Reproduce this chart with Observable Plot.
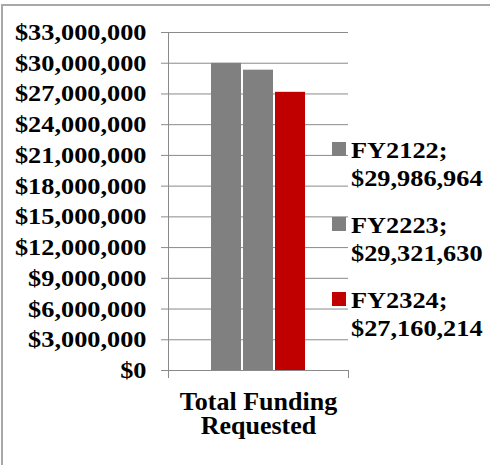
<!DOCTYPE html>
<html>
<head>
<meta charset="utf-8">
<script src="https://cdn.jsdelivr.net/npm/d3@7"></script>
<script src="https://cdn.jsdelivr.net/npm/@observablehq/plot@0.6"></script>
<style>
  html, body { margin: 0; padding: 0; background: #fff; }
  #wrap { position: relative; width: 490px; height: 465px; overflow: hidden; font-family: "Liberation Serif", Tinos, "Times New Roman", "Nimbus Roman", FreeSerif, "DejaVu Serif", serif; }
  #border { position: absolute; left: 1px; top: 4px; width: 600px; height: 600px; border-top: 2px solid #a8a8a8; border-left: 2px solid #a8a8a8; box-sizing: border-box; }
  #chart { position: absolute; left: 0; top: 0; }
  .lg-sw { position: absolute; width: 14px; height: 14px; }
  .lg-tx { position: absolute; font-weight: bold; font-size: 23.5px; line-height: 28px; white-space: nowrap; transform: scaleX(1.12); transform-origin: left top; color: #000; }
</style>
</head>
<body>
<div id="wrap"><div id="border"></div><div id="chart"></div></div>
<script>
const category = "Total Funding Requested";
const series = ["FY2122", "FY2223", "FY2324"];
const values = [29986964, 29321630, 27160214];
const colors = ["#808080", "#808080", "#C00000"];
const yTicks = [0, 3000000, 6000000, 9000000, 12000000, 15000000, 18000000, 21000000, 24000000, 27000000, 30000000, 33000000];

const data = series.map((s, i) => ({category, series: s, value: values[i]}));
const fmt = d3.format("$,");
const gridColor = "#8a8a8a";
const serif = "'Liberation Serif', Tinos, 'Times New Roman', 'Nimbus Roman', FreeSerif, 'DejaVu Serif', serif";

const plot = Plot.plot({
  width: 490,
  height: 465,
  marginLeft: 168,
  marginRight: 142,
  marginTop: 32,
  marginBottom: 95,
  style: {fontFamily: serif, background: "transparent", overflow: "visible"},
  x: {domain: series, paddingInner: 0.06, paddingOuter: 1.26, axis: null},
  y: {domain: [0, 33000000], axis: null},
  color: {domain: series, range: colors},
  marks: [
    Plot.gridY(yTicks, {stroke: gridColor, strokeOpacity: 1}),
    Plot.axisY(yTicks, {tickSize: 7, tickPadding: 15, tickFormat: fmt, stroke: gridColor, fill: "#000", fontSize: 23.5, fontWeight: "bold", fontFamily: serif, label: null}),
    Plot.frame({anchor: "left", stroke: gridColor, insetBottom: -7}),
    Plot.frame({anchor: "bottom", stroke: gridColor}),
    Plot.frame({anchor: "right", stroke: gridColor, insetTop: 338, insetBottom: -7}),
    Plot.barY(data, {x: "series", y: "value", fill: "series"}),
    Plot.text([category], {text: d => d, frameAnchor: "bottom", lineAnchor: "top", dy: 23, fontSize: 26, fontWeight: "bold", fontFamily: serif, lineWidth: 8.5, lineHeight: 0.9, fill: "#000"})
  ]
});
document.getElementById("chart").appendChild(plot);

// stretch y tick labels horizontally to match reference glyph widths
d3.select(plot).selectAll("g[aria-label='y-axis tick label'] text").each(function() {
  const w = this.getComputedTextLength();
  this.setAttribute("textLength", (w * 1.12).toFixed(1));
  this.setAttribute("lengthAdjust", "spacingAndGlyphs");
});

// legend
const wrap = d3.select("#wrap");
series.forEach((s, i) => {
  const top = 142 + i * 74.8;
  wrap.append("div").attr("class", "lg-sw")
    .style("left", "332px").style("top", top + "px").style("background", colors[i]);
  wrap.append("div").attr("class", "lg-tx")
    .style("left", "351px").style("top", (top - 6) + "px")
    .html(`${s};<br>${fmt(values[i])}`);
});
</script>
</body>
</html>
